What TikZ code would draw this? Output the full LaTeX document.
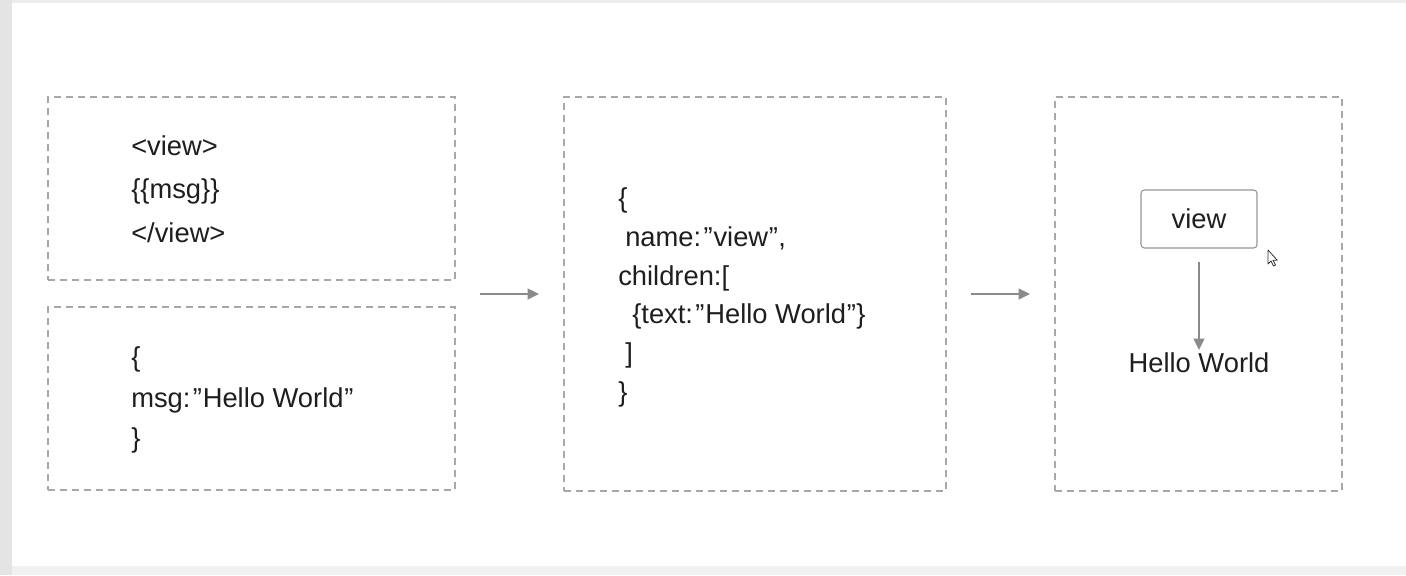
\documentclass[tikz,border=0pt]{standalone}
\usepackage{fontspec}
\setmainfont{Liberation Sans}
\usetikzlibrary{arrows.meta}
\definecolor{dashgray}{HTML}{A8A8A8}
\definecolor{arrowgray}{HTML}{8A8A8A}
\definecolor{txt}{HTML}{1E1E1E}
\definecolor{stripgray}{HTML}{E4E4E4}
\definecolor{bottomgray}{HTML}{F1F1F1}
\newcommand\oq{\kern1.8pt”\kern0.6pt}
\newcommand\cq{\kern0.6pt”\kern0.3pt}
\tikzset{
  dbox/.style={draw=dashgray, line width=1.3pt, dash pattern=on 5.2pt off 3.8pt, rectangle, inner sep=0pt, outer sep=0pt},
  vbox/.style={draw=arrowgray!90, line width=0.8pt, rounded corners=2.5pt, rectangle, inner sep=0pt, outer sep=0pt, minimum width=87pt, minimum height=43.5pt, fill=white},
  arr/.style={draw=arrowgray, line width=1.5pt, -{Triangle[length=8.5pt,width=8pt]}},
  code/.style={anchor=base west, inner sep=0pt, text=txt, font=\fontsize{20.5}{24}\selectfont},
  ctext/.style={inner sep=0pt, text=txt, font=\fontsize{20.5}{24}\selectfont}
}
\begin{document}
\begin{tikzpicture}[x=0.75pt,y=-0.75pt]
\useasboundingbox (0,0) rectangle (1406,575);
\fill[bottomgray] (0,0) rectangle (1406,575);
\fill[stripgray] (0,0) rectangle (12,575);
\fill[stripgray!70] (12,0) rectangle (1406,3);
\fill[white] (12,3) rectangle (1406,566);

% boxes
\node[dbox, minimum width=305.25pt, minimum height=137.25pt] (b1) at (251.5,188.5) {};
\node[dbox, minimum width=305.25pt, minimum height=137.25pt] (b2) at (251.5,398.5) {};
\node[dbox, minimum width=286.5pt, minimum height=295.5pt] (b3) at (755,294) {};
\node[dbox, minimum width=215.25pt, minimum height=295.5pt] (b4) at (1198.5,294) {};

% box 1 text
\node[code] (t11) at (131,155) {<view>};
\node[code] (t12) at (131,198) {\{\{msg\}\}};
\node[code] (t13) at (131,242) {</view>};

% box 2 text
\node[code] (t21) at (131,366) {\{};
\node[code] (t22) at (131,407) {msg:\oq Hello World\cq};
\node[code] (t23) at (131,447) {\}};

% box 3 text
\node[code] (t31) at (618,207) {\{};
\node[code] (t32) at (625,246) {name:\oq view\cq,};
\node[code] (t33) at (618,285) {children:[};
\node[code] (t34) at (632,323) {\{text:\oq Hello World\cq\}};
\node[code] (t35) at (625,362) {]};
\node[code] (t36) at (618,401) {\}};

% box 4 content
\node[vbox] (view) at (1199,219) {};
\node[ctext] (viewt) at (1199,219) {view};
\node[ctext] (hello) at (1199,363) {Hello World};

% arrows
\draw[arr, shorten <=18.75pt, shorten >=18.75pt] (b2.east |- b3.west) -- (b3.west);
\draw[arr, shorten <=18.75pt, shorten >=18.75pt] (b3.east) -- (b4.west);
\draw[arr, shorten <=10.5pt, shorten >=2pt] (view.south) -- (hello.north);

% cursor
\coordinate (cur) at (1268,250);
\draw[line width=0.6pt, draw=black!80, fill=white, line join=round]
  (cur) -- ++(0,14) -- ++(3,-3) -- ++(2.5,5) -- ++(2,-1) -- ++(-2.5,-4.8) -- ++(4.2,0) -- cycle;
\end{tikzpicture}
\end{document}
